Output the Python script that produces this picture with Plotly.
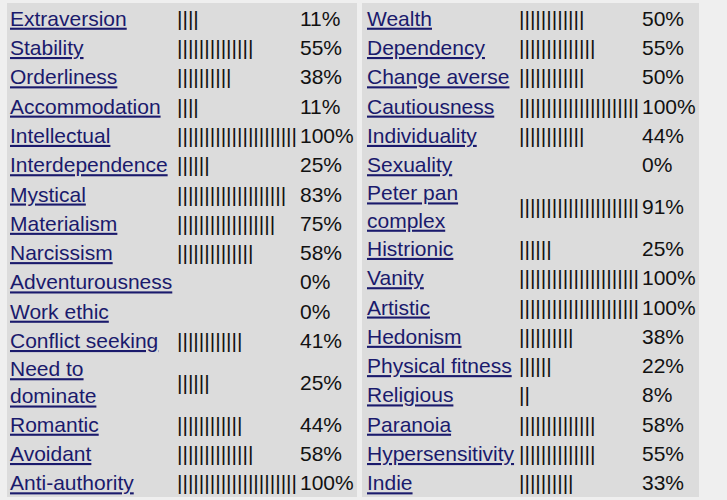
import plotly.graph_objects as go

# ---- data ----
left_traits = ["Extraversion", "Stability", "Orderliness", "Accommodation", "Intellectual",
               "Interdependence", "Mystical", "Materialism", "Narcissism", "Adventurousness",
               "Work ethic", "Conflict seeking", "Need to|dominate", "Romantic", "Avoidant",
               "Anti-authority"]
left_values = [11, 55, 38, 11, 100, 25, 83, 75, 58, 0, 0, 41, 25, 44, 58, 100]
left_bars = [4, 14, 10, 4, 22, 6, 20, 18, 14, 0, 0, 12, 6, 12, 14, 22]

right_traits = ["Wealth", "Dependency", "Change averse", "Cautiousness", "Individuality",
                "Sexuality", "Peter pan|complex", "Histrionic", "Vanity", "Artistic",
                "Hedonism", "Physical fitness", "Religious", "Paranoia", "Hypersensitivity",
                "Indie"]
right_values = [50, 55, 50, 100, 44, 0, 91, 25, 100, 100, 38, 22, 8, 58, 55, 33]
right_bars = [12, 14, 12, 22, 12, 0, 22, 6, 22, 22, 10, 6, 2, 14, 14, 10]

# ---- style / layout ----
FONT = "Liberation Sans, Arial, sans-serif"
FS = 21
LINK = "#1a1a6c"
INK = "#111111"
PANEL = "#dcdcdc"
PAGE = "#efefef"
ROW_H = 29.3
ROW_H2 = 54.4
TOP = 5.8

def row_centers(traits):
    ys, y = [], TOP
    for t in traits:
        h = ROW_H2 if "|" in t else ROW_H
        ys.append(y + h / 2)
        y += h
    return ys

def label_html(t):
    return "<br>".join(f"<u>{p}</u>" for p in t.split("|"))

fig = go.Figure()

columns = [
    (left_traits, left_values, left_bars, 10, 177, 300),
    (right_traits, right_values, right_bars, 367, 519, 642),
]

for traits, values, bars, xl, xb, xp in columns:
    ys = row_centers(traits)
    fig.add_trace(go.Scatter(
        x=[xl] * len(traits), y=ys, mode="text",
        text=[label_html(t) for t in traits], textposition="middle right",
        textfont=dict(family=FONT, size=FS, color=LINK), hoverinfo="skip"))
    fig.add_trace(go.Scatter(
        x=[xb] * len(traits), y=ys, mode="text",
        text=["|" * n for n in bars], textposition="middle right",
        textfont=dict(family=FONT, size=FS, color=INK), hoverinfo="skip"))
    fig.add_trace(go.Scatter(
        x=[xp] * len(traits), y=ys, mode="text",
        text=[f"{v}%" for v in values], textposition="middle right",
        textfont=dict(family=FONT, size=FS, color=INK), hoverinfo="skip"))

shapes = [
    dict(type="rect", xref="x", yref="y", x0=7, x1=357, y0=3, y1=497,
         fillcolor=PANEL, line=dict(width=0), layer="below"),
    dict(type="rect", xref="x", yref="y", x0=362, x1=699, y0=3, y1=497,
         fillcolor=PANEL, line=dict(width=0), layer="below"),
]

fig.update_layout(
    width=727, height=500,
    margin=dict(l=0, r=0, t=0, b=0),
    paper_bgcolor=PAGE, plot_bgcolor=PAGE,
    showlegend=False,
    shapes=shapes,
    xaxis=dict(range=[0, 727], visible=False, fixedrange=True),
    yaxis=dict(range=[500, 0], visible=False, fixedrange=True),
)

fig.write_html("out.html", config={"displayModeBar": False})
